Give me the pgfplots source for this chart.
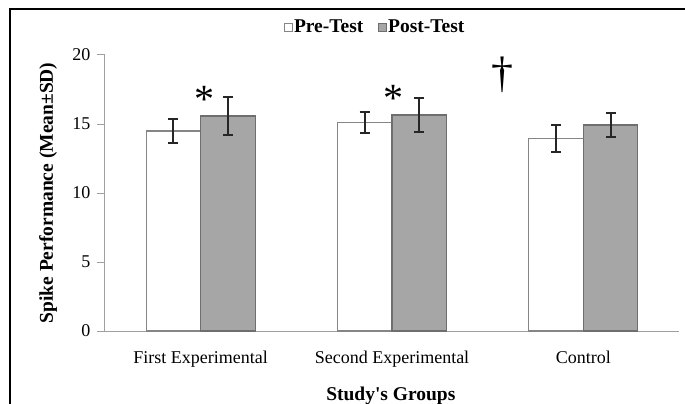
\documentclass[border=0pt]{standalone}
\usepackage{fontspec}
\setmainfont{Liberation Serif}
\usepackage{pgfplots}
\pgfplotsset{compat=1.18}
\definecolor{postfill}{HTML}{A6A6A6}
\definecolor{postdraw}{HTML}{6E6E6E}
\definecolor{predraw}{HTML}{858585}
\definecolor{axisgray}{HTML}{A0A0A0}
\definecolor{errc}{HTML}{262626}
\begin{document}
\begin{tikzpicture}
\path[use as bounding box] (-105bp,-73bp) rectangle (580bp,331bp);
\draw[line width=1.6bp] (-95bp,-90bp) -- (-95bp,322bp) -- (600bp,322bp);
\begin{axis}[
  at={(0,0)}, anchor=south west,
  scale only axis, width=574bp, height=276bp,
  xmin=-0.5, xmax=2.5, ymin=0, ymax=20,
  axis lines=left,
  axis line style={draw=axisgray, line width=1bp, -},
  tick align=outside,
  major tick length=8bp,
  minor tick length=5bp,
  tick style={draw=axisgray, line width=1bp},
  ytick={0,5,10,15,20},
  xtick=\empty,
  minor xtick={-0.5,0.5,1.5,2.5},
  extra x ticks={0,1,2},
  extra x tick labels={First Experimental, Second Experimental, Control},
  extra x tick style={tick style={draw=none}, major tick length=0pt},
  /pgf/number format/assume math mode=true,
  tick label style={font=\fontsize{18bp}{20bp}\selectfont},
  xticklabel style={yshift=-16bp},
  yticklabel style={xshift=-3bp},
  ybar=0pt, bar width=0.285,
  ylabel={Spike Performance (Mean±SD)},
  ylabel style={font=\bfseries\fontsize{19.5bp}{21bp}\selectfont, at={(axis description cs:-0.099,0.5)}, anchor=center},
  xlabel={Study\textquotesingle s Groups},
  xlabel style={font=\bfseries\fontsize{19.5bp}{21bp}\selectfont, at={(axis description cs:0.498,-0.236)}, anchor=center},
  legend columns=2,
  legend style={at={(axis description cs:0.470,1.101)}, anchor=center, draw=none, fill=none,
    font=\bfseries\fontsize{19.5bp}{21bp}\selectfont,
    nodes={inner sep=1bp},
    /tikz/every even column/.append style={column sep=14bp}},
  legend image code/.code={\draw[#1, line width=0.8bp] (0bp,-4bp) rectangle (8bp,4bp);},
  error bars/error bar style={line width=2bp, draw=errc},
  error bars/error mark options={rotate=90, mark size=5bp, line width=2bp, draw=errc},
]
\addplot[fill=white, draw=predraw, line width=1.2bp,
  error bars/.cd, y dir=both, y explicit]
  coordinates {(0,14.49) +- (0,0.90) (1,15.12) +- (0,0.75) (2,13.96) +- (0,0.97)};
\addplot[fill=postfill, draw=postdraw, line width=1.2bp,
  error bars/.cd, y dir=both, y explicit]
  coordinates {(0,15.58) +- (0,1.40) (1,15.65) +- (0,1.22) (2,14.93) +- (0,0.88)};
\legend{Pre-Test, Post-Test}
\node[anchor=north, inner sep=0pt, font=\fontsize{40bp}{42bp}\selectfont] at (axis cs:0.020,17.75) {*};
\node[anchor=north, inner sep=0pt, font=\fontsize{40bp}{42bp}\selectfont] at (axis cs:1.009,17.82) {*};
\node[anchor=north, inner sep=0pt, font=\fontsize{44bp}{46bp}\selectfont] at (axis cs:1.575,19.85) {†};
\end{axis}
\end{tikzpicture}
\end{document}
